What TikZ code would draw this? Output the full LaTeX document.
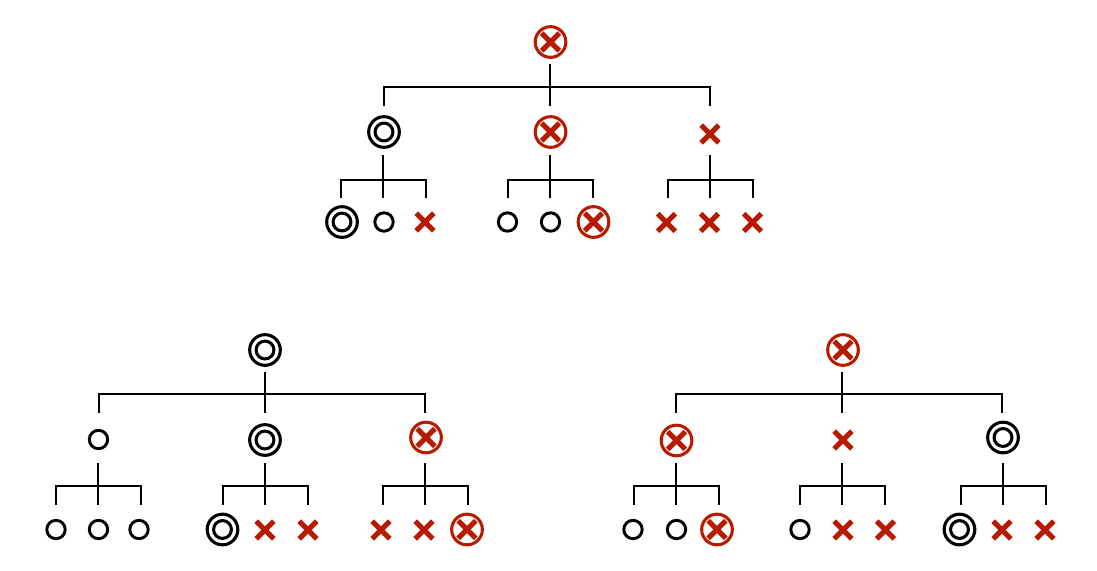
\documentclass[tikz,border=0pt]{standalone}
\usetikzlibrary{shapes.misc}
\definecolor{crimson}{HTML}{B81A00}
\tikzset{
  x=0.75pt,y=-0.75pt,
  conn/.style={draw=black,line width=1.5pt,line cap=butt},
  ringsm/.style={circle,draw=black,line width=2.2pt,minimum size=13.8pt,inner sep=0pt,outer sep=0pt},
  ringdb/.style={circle,draw=black,line width=2.3pt,minimum size=23pt,inner sep=0pt,outer sep=0pt,
    path picture={\draw[black,line width=2.3pt] (path picture bounding box.center) circle (6.7pt);}},
  crs/.style={cross out,draw=crimson,line width=3.8pt,minimum size=13.2pt,inner sep=0pt,outer sep=0pt},
  ringx/.style={circle,draw=crimson,line width=2.3pt,minimum size=23pt,inner sep=0pt,outer sep=0pt,
    path picture={\draw[crimson,line width=3.8pt]
      ([shift={(-6.6pt,-6.6pt)}]path picture bounding box.center) -- ([shift={(6.6pt,6.6pt)}]path picture bounding box.center)
      ([shift={(-6.6pt,6.6pt)}]path picture bounding box.center) -- ([shift={(6.6pt,-6.6pt)}]path picture bounding box.center);}},
}
\newcommand{\fork}[7]{%
  \coordinate (#1top) at (#2,#3);
  \coordinate (#1bot) at (#2,#5);
  \coordinate (#1bl) at (#6,#4);
  \coordinate (#1br) at (#7,#4);
  \coordinate (#1el) at (#6,#5);
  \coordinate (#1er) at (#7,#5);
  \draw[conn] (#1top) -- (#1bot);
  \draw[conn,line join=miter] (#1el) -- (#1bl) -- (#1br) -- (#1er);
}
\begin{document}
\begin{tikzpicture}
\useasboundingbox (0,0) rectangle (1097,571);
% tree A
\node[ringx] (a) at (550.5,42) {};
\node[ringdb] (a1) at (384,132) {};
\node[ringx] (a2) at (550.5,132) {};
\node[crs] (a3) at (710,134) {};
\node[ringdb] (a11) at (342,222) {};
\node[ringsm] (a12) at (384,222) {};
\node[crs] (a13) at (425,222) {};
\node[ringsm] (a21) at (507.5,222) {};
\node[ringsm] (a22) at (550.5,222) {};
\node[ringx] (a23) at (593.5,222) {};
\node[crs] (a31) at (666.5,222.5) {};
\node[crs] (a32) at (709.5,222.5) {};
\node[crs] (a33) at (752.5,222.5) {};
\fork{fa}{550}{63.5}{87}{105.5}{384}{710}
\fork{fa1}{383}{155}{179.5}{197.5}{341}{426}
\fork{fa2}{550}{155}{179.5}{197.5}{508}{593}
\fork{fa3}{710}{155}{179.5}{197.5}{668}{753}
% tree B
\node[ringdb] (b) at (265,350) {};
\node[ringsm] (b1) at (98.5,439.5) {};
\node[ringdb] (b2) at (265,440) {};
\node[ringx] (b3) at (426,437.5) {};
\node[ringsm] (b11) at (56,529.5) {};
\node[ringsm] (b12) at (98.5,529.5) {};
\node[ringsm] (b13) at (139,529.5) {};
\node[ringdb] (b21) at (222.5,529.5) {};
\node[crs] (b22) at (265,530) {};
\node[crs] (b23) at (308,530) {};
\node[crs] (b31) at (381,530) {};
\node[crs] (b32) at (424,530) {};
\node[ringx] (b33) at (467,529.5) {};
\fork{fb}{265}{371.5}{394}{412.5}{99}{425}
\fork{fb1}{98}{463}{486}{505}{56}{141}
\fork{fb2}{265}{463}{486}{505}{223}{308}
\fork{fb3}{425}{463}{486}{505}{383}{468}
% tree C
\node[ringx] (c) at (843,350) {};
\node[ringx] (c1) at (676.5,440.5) {};
\node[crs] (c2) at (843,440) {};
\node[ringdb] (c3) at (1003,437.5) {};
\node[ringsm] (c11) at (633,529.5) {};
\node[ringsm] (c12) at (676.5,529.5) {};
\node[ringx] (c13) at (717,529.5) {};
\node[ringsm] (c21) at (800,529.5) {};
\node[crs] (c22) at (843,530) {};
\node[crs] (c23) at (885.5,530) {};
\node[ringdb] (c31) at (959.5,529.5) {};
\node[crs] (c32) at (1002,530) {};
\node[crs] (c33) at (1045,530) {};
\fork{fc}{842}{371.5}{394}{412.5}{676}{1002}
\fork{fc1}{676}{463}{486}{505}{634}{719}
\fork{fc2}{842}{463}{486}{505}{800}{885}
\fork{fc3}{1003}{463}{486}{505}{961}{1046}
\end{tikzpicture}
\end{document}
